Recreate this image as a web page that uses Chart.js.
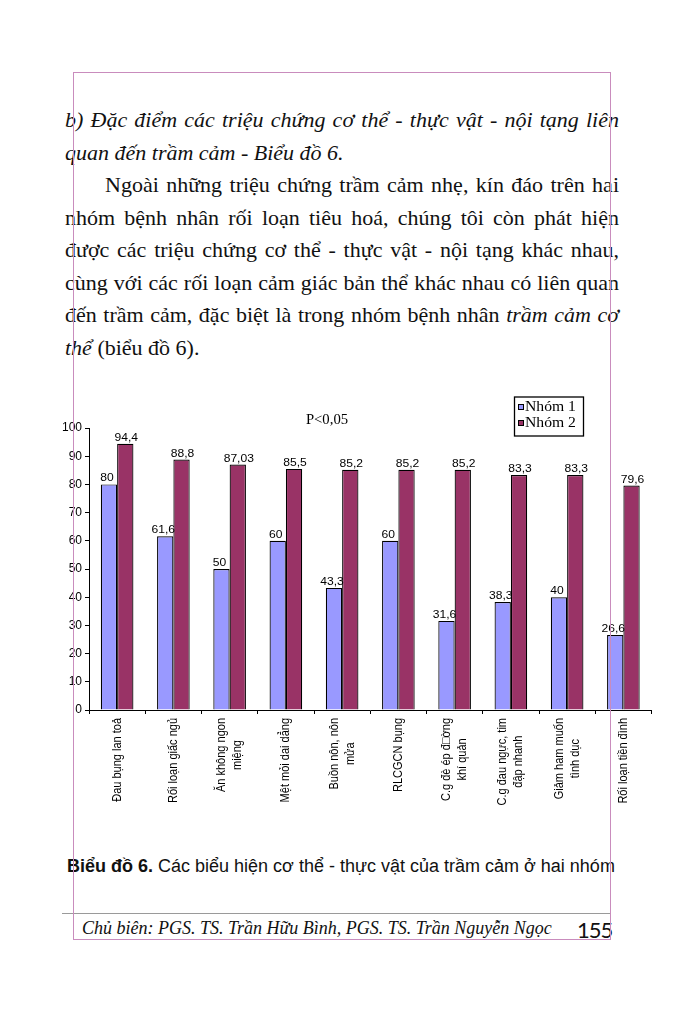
<!DOCTYPE html>
<html lang="vi">
<head>
<meta charset="utf-8">
<title>Biểu đồ 6</title>
<script src="https://cdn.jsdelivr.net/npm/chart.js@4.4.1/dist/chart.umd.min.js"></script>
<style>
  html, body { margin: 0; padding: 0; background: #fff; }
  body { width: 683px; height: 1024px; position: relative; overflow: hidden; color: #111; }
  .frame { position: absolute; left: 73px; top: 72px; width: 536px; height: 866px; border: 1px solid #c98cbd; pointer-events: none; z-index: 5; }
  .text { position: absolute; left: 65px; top: 104px; width: 554px; font-family: "Liberation Serif", "Times New Roman", serif; font-size: 22px; line-height: 32.5px; }
  .line { text-align: justify; text-align-last: justify; white-space: nowrap; }
  .line.last { text-align-last: left; }
  .indent { padding-left: 40px; }
  i { font-style: italic; }
  #wrap { position: absolute; left: 58px; top: 392px; width: 600px; height: 440px; }
  .caption { position: absolute; left: 67px; top: 856px; font-family: "Liberation Sans", Arial, sans-serif; font-size: 18px; white-space: nowrap; }
  .rule { position: absolute; left: 62px; top: 913px; width: 548px; height: 1px; background: #9a9a9a; }
  .footer { position: absolute; left: 82px; top: 918px; font-family: "Liberation Serif", "Times New Roman", serif; font-style: italic; font-size: 18px; white-space: nowrap; }
  .page { position: absolute; left: 577px; top: 916px; font-family: Lato, "Open Sans", sans-serif; font-size: 22px; letter-spacing: -1px; }
</style>
</head>
<body>
<div class="frame"></div>
<div class="text">
  <div class="line"><i>b) Đặc điểm các triệu chứng cơ thể - thực vật - nội tạng liên</i></div>
  <div class="line last"><i>quan đến trầm cảm - Biểu đồ 6.</i></div>
  <div class="line indent">Ngoài những triệu chứng trầm cảm nhẹ, kín đáo trên hai</div>
  <div class="line">nhóm bệnh nhân rối loạn tiêu hoá, chúng tôi còn phát hiện</div>
  <div class="line">được các triệu chứng cơ thể - thực vật - nội tạng khác nhau,</div>
  <div class="line">cùng với các rối loạn cảm giác bản thể khác nhau có liên quan</div>
  <div class="line">đến trầm cảm, đặc biệt là trong nhóm bệnh nhân <i>trầm cảm cơ</i></div>
  <div class="line last"><i>thể</i> (biểu đồ 6).</div>
</div>

<div id="wrap"><canvas id="chart6" width="600" height="440"></canvas></div>

<div class="caption"><b>Biểu đồ 6.</b> Các biểu hiện cơ thể - thực vật của trầm cảm ở hai nhóm</div>
<div class="rule"></div>
<div class="footer">Chủ biên: PGS. TS. Trần Hữu Bình, PGS. TS. Trần Nguyễn Ngọc</div>
<div class="page">155</div>

<script>
// categories (each entry = lines of the rotated label)
const categories = [
  ["Đau bụng lan toả"],
  ["Rối loạn giấc ngủ"],
  ["Ăn không ngon", "miệng"],
  ["Mệt mỏi dai dẳng"],
  ["Buồn nôn, nôn", "mửa"],
  ["RLCGCN bụng"],
  ["C.g đè ép đ□ờng", "khí quản"],
  ["C.g đau ngực, tim", "đập nhanh"],
  ["Giảm ham muốn", "tình dục"],
  ["Rối loạn tiền đình"]
];
const seriesNames = ["Nhóm 1", "Nhóm 2"];
const nhom1 = [80, 61.6, 50, 60, 43.3, 60, 31.6, 38.3, 40, 26.6];
const nhom2 = [94.4, 88.8, 87.03, 85.5, 85.2, 85.2, 85.2, 83.3, 83.3, 79.6];
const yTicks = [0, 10, 20, 30, 40, 50, 60, 70, 80, 90, 100];
const noteText = "P<0,05";

const colors = ["#9999ff", "#993366"];

// value labels above bars, comma decimal
const valueLabels = {
  id: "valueLabels",
  afterDatasetsDraw(chart) {
    const ctx = chart.ctx;
    ctx.save();
    ctx.font = '10.8px "Liberation Sans", Arial, sans-serif';
    ctx.fillStyle = "#000";
    ctx.textAlign = "center";
    ctx.textBaseline = "alphabetic";
    chart.data.datasets.forEach((ds, di) => {
      chart.getDatasetMeta(di).data.forEach((bar, i) => {
        const txt = String(ds.data[i]).replace(".", ",");
        ctx.save();
        ctx.translate(bar.x + (di === 0 ? -2 : 1), bar.y - 3);
        ctx.scale(1.12, 1);
        ctx.fillText(txt, 0, 0);
        ctx.restore();
      });
    });
    ctx.restore();
  }
};

// rotated category labels, centred lines, hanging below the axis
const rotatedLabels = {
  id: "rotatedLabels",
  afterDraw(chart) {
    const ctx = chart.ctx;
    const xs = chart.scales.x;
    ctx.save();
    ctx.font = '11px "Liberation Sans", Arial, sans-serif';
    ctx.fillStyle = "#000";
    ctx.textAlign = "center";
    ctx.textBaseline = "middle";
    chart.data.labels.forEach((lines, i) => {
      const x = xs.getPixelForValue(i);
      const w = Math.max(...lines.map(l => ctx.measureText(l).width));
      ctx.save();
      ctx.translate(x, xs.top + 8);
      ctx.rotate(-Math.PI / 2);
      ctx.scale(1, 1.15);
      lines.forEach((l, j) => {
        ctx.fillText(l, -w / 2, (j - (lines.length - 1) / 2) * 14);
      });
      ctx.restore();
    });
    ctx.restore();
  }
};

// boxed legend top right + p value note
const boxLegend = {
  id: "boxLegend",
  afterDraw(chart) {
    const ctx = chart.ctx;
    ctx.save();
    ctx.strokeStyle = "#000";
    ctx.lineWidth = 1.3;
    ctx.strokeRect(456.5, 5, 69, 39);
    ctx.font = '14px "Liberation Serif", "Times New Roman", serif';
    ctx.textBaseline = "middle";
    chart.data.datasets.forEach((ds, di) => {
      const y = 15.5 + di * 16;
      ctx.fillStyle = ds.backgroundColor;
      ctx.fillRect(460.5, y - 3, 5, 5);
      ctx.lineWidth = 1;
      ctx.strokeRect(460.5, y - 3, 5, 5);
      ctx.fillStyle = "#000";
      ctx.save();
      ctx.translate(467, y);
      ctx.scale(1.12, 1);
      ctx.textAlign = "left";
      ctx.fillText(ds.label, 0, 0);
      ctx.restore();
    });
    ctx.save();
    ctx.translate(269, 28);
    ctx.scale(1.05, 1);
    ctx.textAlign = "center";
    ctx.fillText(noteText, 0, 0);
    ctx.restore();
    ctx.restore();
  }
};

new Chart(document.getElementById("chart6"), {
  type: "bar",
  data: {
    labels: categories,
    datasets: [
      { label: seriesNames[0], data: nhom1, backgroundColor: colors[0], borderColor: "#000", borderWidth: 1.2 },
      { label: seriesNames[1], data: nhom2, backgroundColor: colors[1], borderColor: "#000", borderWidth: 1.2 }
    ]
  },
  options: {
    responsive: false,
    animation: false,
    layout: { padding: { left: 0, top: 36, right: 6.5, bottom: 0 } },
    datasets: { bar: { categoryPercentage: 0.58, barPercentage: 1.0 } },
    plugins: {
      legend: { display: false },
      tooltip: { enabled: false }
    },
    scales: {
      x: {
        grid: { drawOnChartArea: false, drawTicks: true, tickLength: 4, color: "#000", offset: true },
        border: { display: true, color: "#000", width: 1 },
        ticks: { display: false },
        afterFit: s => { s.height = 122; }
      },
      y: {
        min: 0,
        max: 100,
        afterBuildTicks: s => { s.ticks = yTicks.map(v => ({ value: v })); },
        grid: { drawOnChartArea: false, drawTicks: true, tickLength: 4, color: "#000" },
        border: { display: true, color: "#000", width: 1 },
        ticks: {
          color: "#000",
          padding: 3,
          font: { family: '"Liberation Sans", Arial, sans-serif', size: 12 }
        },
        afterFit: s => { s.width = 31; }
      }
    }
  },
  plugins: [valueLabels, rotatedLabels, boxLegend]
});
</script>
</body>
</html>
